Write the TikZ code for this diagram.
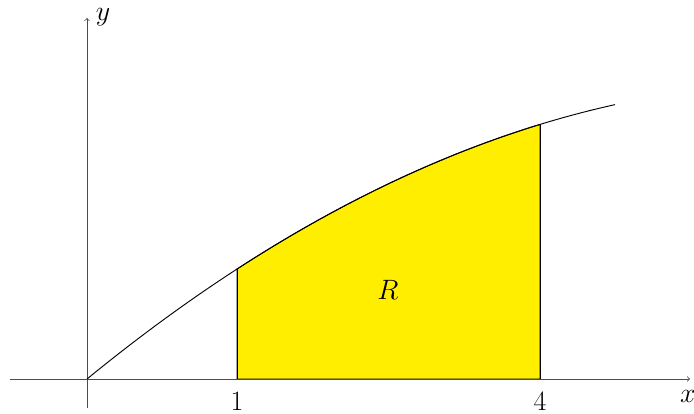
\RequirePackage{fix-cm}
\documentclass[tikz,border=0pt]{standalone}
\usepackage{amsmath}
\begin{document}
\begin{tikzpicture}[x=0.75pt,y=-0.75pt,
  axis/.style={draw=black!70,line width=0.6pt,->},
  curve/.style={draw=black,line width=0.7pt},
  region/.style={fill={rgb,255:red,255;green,238;blue,0},draw=black,line width=0.7pt},
  lab/.style={font=\fontsize{21}{25}\selectfont,inner sep=0pt}]
\useasboundingbox (0,0) rectangle (694,414);
% region R
\fill[region] (237,379) -- plot[domain=150:453,samples=60] ({87+\x},{379-(0.8177*\x-0.000562*\x*\x)}) -- (540,379) -- cycle;
% axes
\coordinate (xs) at (10,379);
\coordinate (xe) at (690,379);
\coordinate (ys) at (87,408);
\coordinate (ye) at (87,18);
\draw[axis] (xs) -- (xe);
\draw[axis] (ys) -- (ye);
% region borders
\coordinate (a0) at (237,379);
\coordinate (a1) at (237,{379-(0.8177*150-0.000562*150*150)});
\coordinate (b0) at (540,379);
\coordinate (b1) at (540,{379-(0.8177*453-0.000562*453*453)});
\draw[line width=0.7pt] (a0) -- (a1);
\draw[line width=0.7pt] (b0) -- (b1);
% curve
\draw[curve] plot[domain=0:528,samples=100] ({87+\x},{379-(0.8177*\x-0.000562*\x*\x)});
% labels
\node[lab] (yl) at (103,17) {$y$};
\node[lab] (xl) at (688,396) {$x$};
\node[lab] (one) at (237,401) {$1$};
\node[lab] (four) at (540,401) {$4$};
\node[lab] (R) at (388,290) {$R$};
\end{tikzpicture}
\end{document}
